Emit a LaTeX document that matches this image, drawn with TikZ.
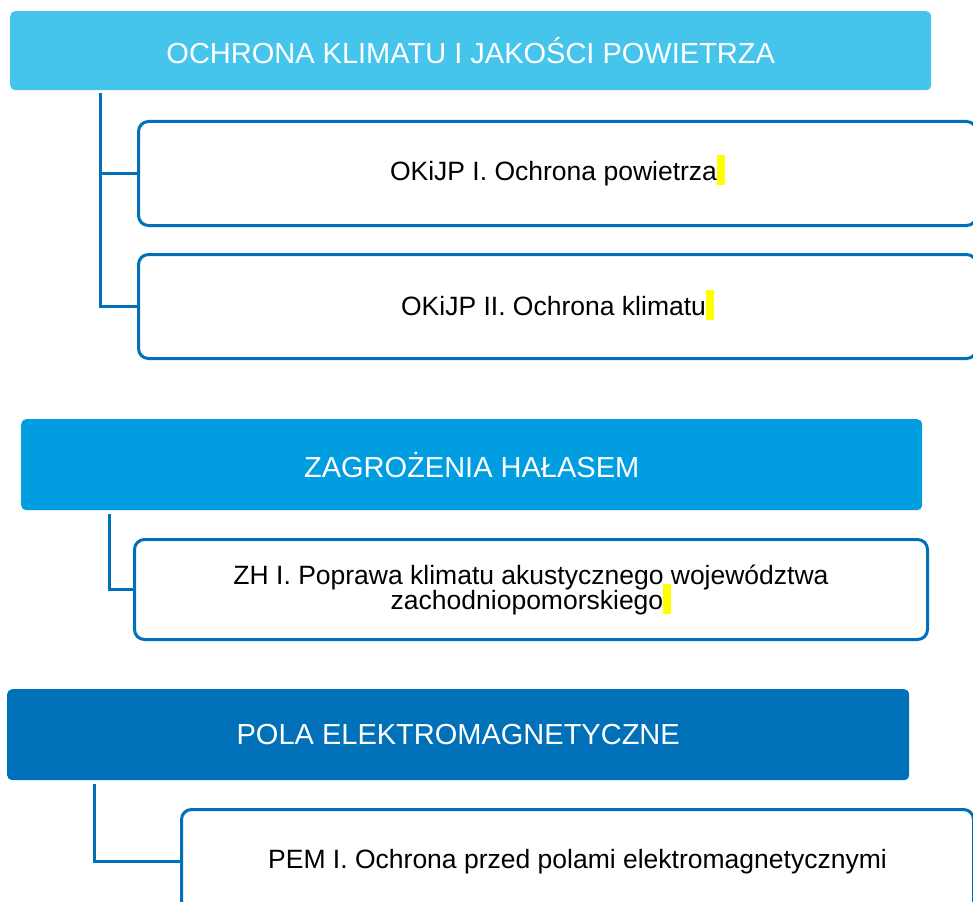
\documentclass[tikz,border=0pt]{standalone}
\usepackage{fontspec}
\setmainfont{Liberation Sans}
\usetikzlibrary{positioning}
\definecolor{Sky}{HTML}{46C5EC}
\definecolor{Azure}{HTML}{009EE0}
\definecolor{Cobalt}{HTML}{0070B9}
\definecolor{Marker}{HTML}{FFFF00}
% yellow bar left after some of the item labels
\newcommand{\markbar}{\smash{\textcolor{Marker}{\rule[-4.5pt]{8pt}{30pt}}}}

\begin{document}
\begin{tikzpicture}[x=1pt,y=-1pt,
    head/.style={rounded corners=5pt,anchor=north west,inner sep=0pt,text=white,
                 font=\fontsize{29}{35}\selectfont},
    item/.style={draw=Cobalt,line width=3pt,rounded corners=10pt,fill=white,
                 anchor=north west,inner sep=0pt,font=\fontsize{26.5}{25}\selectfont},
    link/.style={Cobalt,line width=3pt}]
        \useasboundingbox (0,0) rectangle (973,901);
        \clip (0,0) rectangle (973,901);

        % climate and air quality
        \node[head,fill=Sky,minimum width=921pt,minimum height=79pt] (klimat) at (10,11)
              {OCHRONA KLIMATU I JAKOŚCI POWIETRZA};
        \node[item,minimum width=838pt,minimum height=104pt] (powietrze) at (137,120)
              {OKiJP I. Ochrona powietrza\markbar};
        \node[item,minimum width=838pt,minimum height=104pt,below=26pt of powietrze] (ochrklim)
              {OKiJP II. Ochrona klimatu\markbar};
        \coordinate (trunkA) at (100,93);
        \draw[link] (trunkA) |- (powietrze.west);
        \draw[link] (trunkA) |- (ochrklim.west);

        % noise
        \node[head,fill=Azure,minimum width=901pt,minimum height=91pt] (halas) at (21,419)
              {ZAGROŻENIA HAŁASEM};
        \node[item,align=center,minimum width=793pt,minimum height=100pt] (akust) at (133,538)
              {ZH I. Poprawa klimatu akustycznego województwa\\zachodniopomorskiego\markbar};
        \coordinate (trunkB) at (109,514);
        \draw[link] (trunkB) |- (akust.west);

        % electromagnetic fields
        \node[head,fill=Cobalt,minimum width=902pt,minimum height=91pt] (pola) at (7,689)
              {POLA ELEKTROMAGNETYCZNE};
        \node[item,minimum width=792pt,minimum height=104pt] (pem) at (180,808)
              {PEM I. Ochrona przed polami elektromagnetycznymi};
        \coordinate (trunkC) at (94,784);
        \draw[link] (trunkC) |- (pem.west);
\end{tikzpicture}
\end{document}
